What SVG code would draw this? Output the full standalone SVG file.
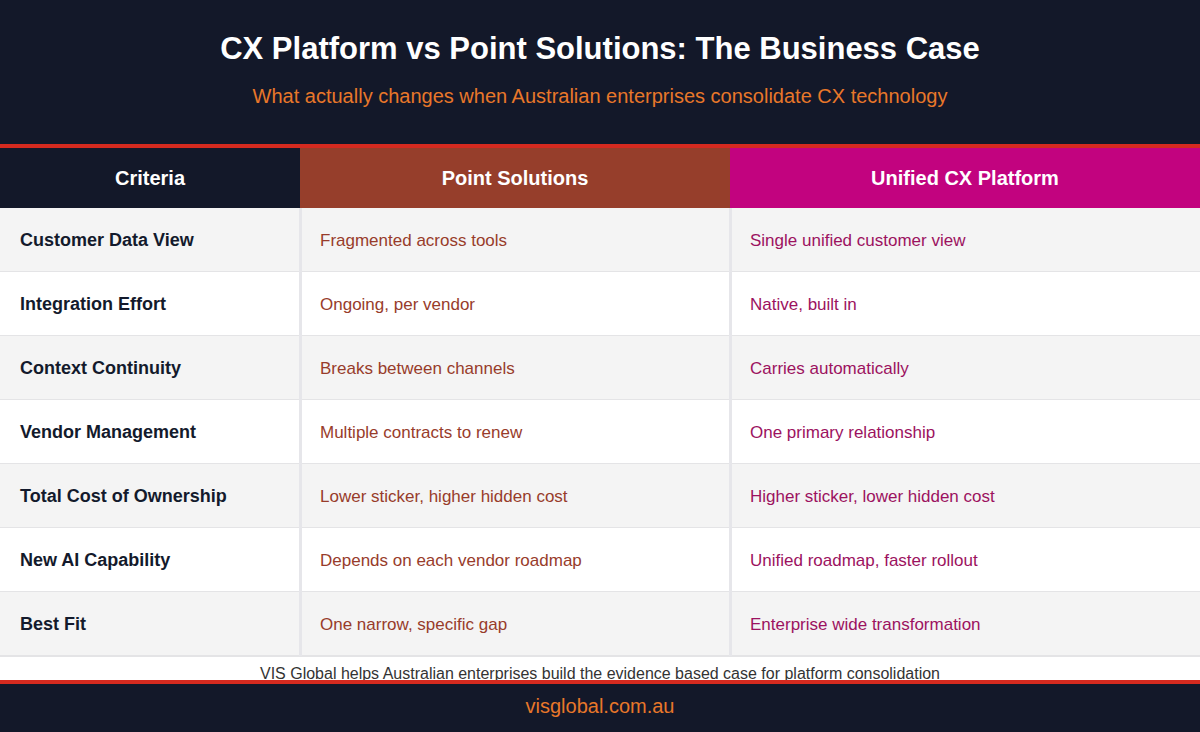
<svg xmlns="http://www.w3.org/2000/svg" width="1200" height="732" viewBox="0 0 1200 732">
<style>
text{font-family:"Liberation Sans",Arial,sans-serif}
.h{font-size:20px;font-weight:bold;fill:#fff;text-anchor:middle}
.c{font-size:18px;font-weight:bold;fill:#131a2c}
.p{font-size:17px;fill:#983c2b}
.u{font-size:17px;fill:#9c1260}
.sep{fill:#e6e6ea}
</style>
<rect width="1200" height="732" fill="#fff"/>
<rect width="1200" height="145" fill="#131829"/>
<text x="600" y="59" font-size="31" font-weight="bold" fill="#fff" text-anchor="middle">CX Platform vs Point Solutions: The Business Case</text>
<text x="600" y="103" font-size="20" fill="#e8772a" text-anchor="middle">What actually changes when Australian enterprises consolidate CX technology</text>
<rect y="144" width="1200" height="4" fill="#d52a1f"/>
<g id="header">
<rect y="148" width="300" height="60" fill="#131829"/>
<rect x="300" y="148" width="430" height="60" fill="#963e2b"/>
<rect x="730" y="148" width="470" height="60" fill="#c2037f"/>
<text class="h" x="150" y="185">Criteria</text>
<text class="h" x="515" y="185">Point Solutions</text>
<text class="h" x="965" y="185">Unified CX Platform</text>
</g>
<g id="rows">
<rect y="208" width="1200" height="64" fill="#f4f4f4"/>
<rect y="336" width="1200" height="64" fill="#f4f4f4"/>
<rect y="464" width="1200" height="64" fill="#f4f4f4"/>
<rect y="592" width="1200" height="64" fill="#f4f4f4"/>
<g fill="#e4e4e6">
<rect y="271" width="1200" height="1"/><rect y="335" width="1200" height="1"/><rect y="399" width="1200" height="1"/><rect y="463" width="1200" height="1"/><rect y="527" width="1200" height="1"/><rect y="591" width="1200" height="1"/><rect y="655" width="1200" height="2"/>
</g>
<rect class="sep" x="299" y="208" width="3" height="448"/>
<rect class="sep" x="729" y="208" width="3" height="448"/>
<g id="r1"><text class="c" x="20" y="246">Customer Data View</text><text class="p" x="320" y="246">Fragmented across tools</text><text class="u" x="750" y="246">Single unified customer view</text></g>
<g id="r2"><text class="c" x="20" y="310">Integration Effort</text><text class="p" x="320" y="310">Ongoing, per vendor</text><text class="u" x="750" y="310">Native, built in</text></g>
<g id="r3"><text class="c" x="20" y="374">Context Continuity</text><text class="p" x="320" y="374">Breaks between channels</text><text class="u" x="750" y="374">Carries automatically</text></g>
<g id="r4"><text class="c" x="20" y="438">Vendor Management</text><text class="p" x="320" y="438">Multiple contracts to renew</text><text class="u" x="750" y="438">One primary relationship</text></g>
<g id="r5"><text class="c" x="20" y="502">Total Cost of Ownership</text><text class="p" x="320" y="502">Lower sticker, higher hidden cost</text><text class="u" x="750" y="502">Higher sticker, lower hidden cost</text></g>
<g id="r6"><text class="c" x="20" y="566">New AI Capability</text><text class="p" x="320" y="566">Depends on each vendor roadmap</text><text class="u" x="750" y="566">Unified roadmap, faster rollout</text></g>
<g id="r7"><text class="c" x="20" y="630">Best Fit</text><text class="p" x="320" y="630">One narrow, specific gap</text><text class="u" x="750" y="630">Enterprise wide transformation</text></g>
</g>
<text x="600" y="679" font-size="16" fill="#333" text-anchor="middle" textLength="680" lengthAdjust="spacingAndGlyphs">VIS Global helps Australian enterprises build the evidence based case for platform consolidation</text>
<rect y="680" width="1200" height="4" fill="#d52a1f"/>
<rect y="684" width="1200" height="48" fill="#131829"/>
<text x="600" y="713" font-size="20" fill="#e8772a" text-anchor="middle">visglobal.com.au</text>
</svg>
